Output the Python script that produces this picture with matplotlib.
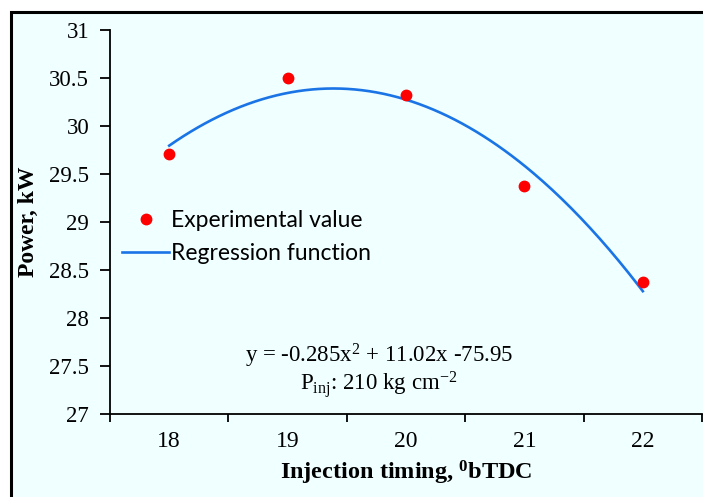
import matplotlib.pyplot as plt
import numpy as np
from matplotlib.lines import Line2D
from matplotlib.patches import Rectangle

# data
timing = [18, 19, 20, 21, 22]
power = [29.71, 30.50, 30.32, 29.37, 28.38]
y_ticks = [27, 27.5, 28, 28.5, 29, 29.5, 30, 30.5, 31]
equation = r"y = -0.285x$^{2}$ + 11.02x -75.95"
pressure = r"P$_{\mathrm{inj}}$: 210 kg cm$^{-2}$"

plt.rcParams["font.family"] = "Liberation Serif"
plt.rcParams["mathtext.fontset"] = "custom"
plt.rcParams["mathtext.rm"] = "Liberation Serif"
plt.rcParams["mathtext.it"] = "Liberation Serif:italic"
plt.rcParams["mathtext.bf"] = "Liberation Serif:bold"

W, H = 703, 497
fig = plt.figure(figsize=(W / 100, H / 100), dpi=100, facecolor="white")

# light background panel with black frame (cropped on right/bottom)
fig.patches.append(Rectangle((11.5 / W, -0.05), 1.2, 1 - 11.5 / H + 0.05,
                             transform=fig.transFigure, facecolor="#F0FFFF",
                             edgecolor="black", linewidth=2.2, zorder=-5))

ax = fig.add_axes([110 / W, (H - 414) / H, 592 / W, 384 / H])
ax.set_facecolor("none")

# regression curve (quadratic fit of the measured points)
coef = np.polyfit(timing, power, 2)
xs = np.linspace(timing[0], timing[-1], 200)
ax.plot(xs, np.polyval(coef, xs), color="#1A74E6", lw=1.9, zorder=2)
ax.plot(timing, power, "o", color="#FF0000", ms=7.5, zorder=3)

ax.set_xlim(17.5, 22.5)
ax.set_ylim(27, 31)
ax.set_yticks(y_ticks)
ax.set_yticklabels([f"{v:g}" for v in y_ticks], fontsize=16.5)
ax.set_xticks(np.arange(17.5, 23, 1))
ax.set_xticklabels([])
ax.set_xticks(timing, minor=True)
ax.set_xticklabels([str(t) for t in timing], minor=True, fontsize=17)
ax.tick_params(axis="x", which="major", direction="out", length=6, width=1.3)
ax.tick_params(axis="x", which="minor", length=0, pad=12)
ax.tick_params(axis="y", direction="out", length=7, width=1.3, pad=8)

for side in ["top", "right"]:
    ax.spines[side].set_visible(False)
for side in ["left", "bottom"]:
    ax.spines[side].set_linewidth(1.3)

ax.set_xlabel(r"Injection timing, $^{\mathbf{0}}$bTDC", fontsize=17.5,
              fontweight="bold", labelpad=5)
ax.set_ylabel("Power, kW", fontsize=17, fontweight="bold", labelpad=7)

handles = [
    Line2D([], [], marker="o", ls="none", color="#FF0000", ms=7.5),
    Line2D([], [], color="#1A74E6", lw=1.9),
]
leg = fig.legend(handles, ["Experimental value", "Regression function"],
                 loc="center left", bbox_to_anchor=(111 / W, 1 - 237 / H),
                 frameon=False, borderpad=0, handlelength=2.05,
                 handletextpad=0.08, labelspacing=0.5,
                 prop={"family": "Lato", "size": 16.5})

fig.text(379 / W, 1 - 356 / H, equation, ha="center", va="center", fontsize=16.5)
fig.text(379 / W, 1 - 385 / H, pressure, ha="center", va="center", fontsize=16.5)

fig.savefig("out.png", dpi=100)
